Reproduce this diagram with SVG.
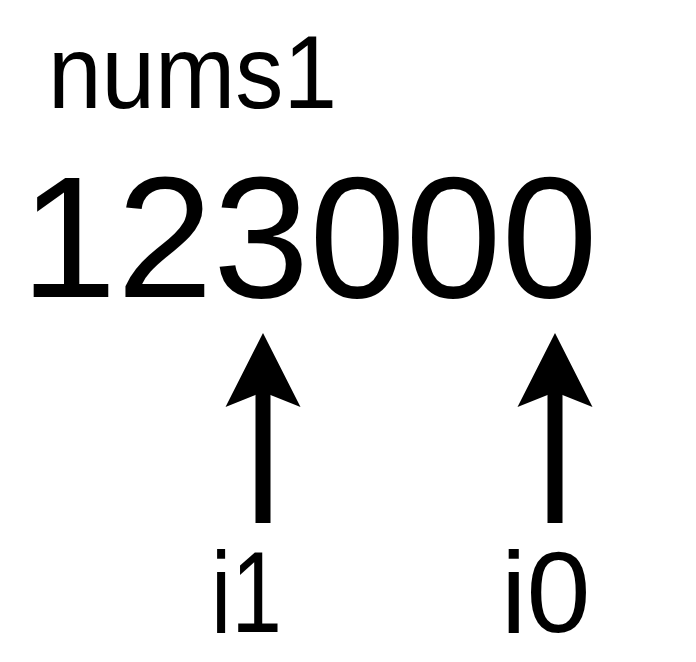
<svg xmlns="http://www.w3.org/2000/svg" width="696" height="662" viewBox="0 0 696 662">
  <style>
    text { font-family: "Liberation Sans", Arial, Helvetica, sans-serif; fill: #000; }
    .conn { stroke: #000; stroke-width: 15; fill: none; marker-end: url(#head); }
  </style>
  <defs>
    <marker id="head" markerUnits="userSpaceOnUse" orient="auto" refX="15" refY="0" markerWidth="80" markerHeight="80" viewBox="0 -40 80 80" overflow="visible">
      <path d="M0,-37.5 L74,0 L0,37.5 L15,0 Z" fill="#000"/>
    </marker>
  </defs>
  <rect width="696" height="662" fill="#fff"/>
  <g id="label-nums1"><text x="48" y="108" font-size="104" textLength="289" lengthAdjust="spacingAndGlyphs">nums1</text></g>
  <g id="array"><text x="20.5" y="297" font-size="173">123000</text></g>
  <g id="pointer-i1"><text x="211" y="632" font-size="115" textLength="71" lengthAdjust="spacingAndGlyphs">i1</text></g>
  <g id="pointer-i0"><text x="501" y="632" font-size="115">i0</text></g>
  <g id="connectors">
    <line class="conn" x1="263" y1="523" x2="263" y2="392"/>
    <line class="conn" x1="555" y1="523" x2="555" y2="392"/>
  </g>
</svg>
